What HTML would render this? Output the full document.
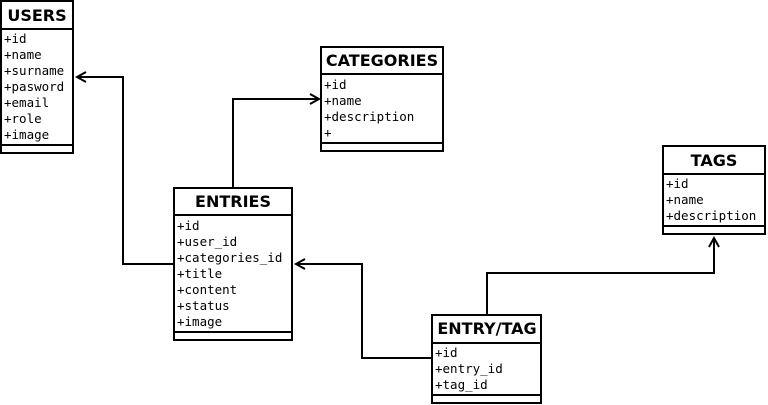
<!DOCTYPE html>
<html><head><style>body{margin:0;background:#fff}svg{display:block}
.t{font-family:"DejaVu Sans","Liberation Sans",sans-serif;font-weight:bold;font-size:16px;text-anchor:middle}
.f{font-family:"DejaVu Sans Mono","Liberation Mono",monospace;font-size:12.5px}
</style></head><body>
<svg width="768" height="405" viewBox="0 0 768 405" xmlns="http://www.w3.org/2000/svg">
<g fill="#fff" stroke="#000" stroke-width="2">
<rect x="1" y="1" width="72" height="152"/><line x1="1" y1="29" x2="73" y2="29"/><line x1="1" y1="145" x2="73" y2="145"/>
<rect x="321" y="47" width="122" height="104"/><line x1="321" y1="74" x2="443" y2="74"/><line x1="321" y1="143" x2="443" y2="143"/>
<rect x="663" y="146" width="102" height="88"/><line x1="663" y1="174" x2="765" y2="174"/><line x1="663" y1="226" x2="765" y2="226"/>
<rect x="174" y="188" width="118" height="152"/><line x1="174" y1="215" x2="292" y2="215"/><line x1="174" y1="332" x2="292" y2="332"/>
<rect x="432" y="315" width="109" height="88"/><line x1="432" y1="343" x2="541" y2="343"/><line x1="432" y1="395" x2="541" y2="395"/>
</g>
<g fill="none" stroke="#000" stroke-width="2">
<polyline points="174,264 123,264 123,77 77,77"/><polyline points="86,72 77,77 86,82"/>
<polyline points="233,188 233,99 319,99"/><polyline points="310,94 319,99 310,104"/>
<polyline points="432,358 362,358 362,264 296,264"/><polyline points="305,259 296,264 305,269"/>
<polyline points="487,315 487,273 714,273 714,238"/><polyline points="709,247 714,238 719,247"/>
</g>
<text class="t" x="37" y="21">USERS</text>
<text class="t" x="382" y="66">CATEGORIES</text>
<text class="t" x="714" y="166">TAGS</text>
<text class="t" x="233" y="207">ENTRIES</text>
<text class="t" x="487" y="334">ENTRY/TAG</text>
<g class="f">
<text x="4" y="43">+id</text><text x="4" y="59">+name</text><text x="4" y="75">+surname</text><text x="4" y="91">+pasword</text><text x="4" y="107">+email</text><text x="4" y="123">+role</text><text x="4" y="139">+image</text>
<text x="324" y="89">+id</text><text x="324" y="105">+name</text><text x="324" y="121">+description</text><text x="324" y="137">+</text>
<text x="666" y="188">+id</text><text x="666" y="204">+name</text><text x="666" y="220">+description</text>
<text x="177" y="230">+id</text><text x="177" y="246">+user_id</text><text x="177" y="262">+categories_id</text><text x="177" y="278">+title</text><text x="177" y="294">+content</text><text x="177" y="310">+status</text><text x="177" y="326">+image</text>
<text x="435" y="357">+id</text><text x="435" y="373">+entry_id</text><text x="435" y="389">+tag_id</text>
</g>
</svg>
</body></html>
